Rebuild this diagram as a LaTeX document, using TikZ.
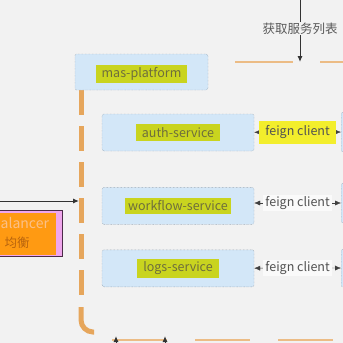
\documentclass[tikz,border=0pt]{standalone}
\usepackage{fontspec}
\setmainfont{Noto Sans CJK SC}
\usepackage{xcolor}
\usetikzlibrary{positioning, arrows.meta}

\definecolor{bggray}{HTML}{F2F2F2}
\definecolor{svcblue}{HTML}{D3E7F8}
\definecolor{svcline}{HTML}{7E8A96}
\definecolor{hlgreen}{HTML}{C9D41F}
\definecolor{hltext}{HTML}{6E6E3C}
\definecolor{hlyellow}{HTML}{F3EE2C}
\definecolor{frameorange}{HTML}{E6A65C}
\definecolor{lborange}{HTML}{FF9A12}
\definecolor{lbpink}{HTML}{EFA6EC}
\definecolor{lbline}{HTML}{4B2B48}
\definecolor{lbpeach}{HTML}{FBC088}
\definecolor{lbbrown}{HTML}{B8640E}

\tikzset{
  svc/.style={draw=svcline, densely dotted, fill=svcblue, rounded corners=2pt, minimum height=37pt},
  hl/.style={fill=hlgreen, text=hltext, font=\fontsize{12.5}{14}\selectfont, inner xsep=6pt, inner ysep=3pt},
  feign/.style={font=\fontsize{12.5}{14}\selectfont, text=black!68, inner xsep=2pt, inner ysep=1pt},
  frameline/.style={draw=frameorange, line width=5pt},
  thinframe/.style={draw=frameorange!75, line width=2.5pt}
}

\begin{document}
\begin{tikzpicture}[x=1pt, y=-1pt, >={Latex[length=6pt,width=5pt]}]
        \fill[bggray] (0,0) rectangle (343,343);
        \useasboundingbox (0,0) rectangle (343,343);
        \clip (0,0) rectangle (343,343);

        % Frame
        \draw[thinframe, dash pattern=on 58pt off 27pt] (235,62) -- (360,62);
        \draw[frameline, dash pattern=on 25pt off 11pt] (81,90) -- (81,296);
        \draw[frameline, rounded corners=12pt] (81,307) -- (81,332) -- (94,332);
        \draw[thinframe, dash pattern=on 55pt off 28pt] (112,340) -- (360,340);

        % Nodes
        \node (mas) [svc, minimum width=133pt, minimum height=36pt] at (141.5,72) {};
        \node (auth) [svc, minimum width=152pt] at (178,132.5) {};
        \node (workflow) [svc, minimum width=152pt, below=36pt of auth] {};
        \node (logs) [svc, minimum width=152pt, below=25pt of workflow] {};
        \node (mastxt) [hl] at ([yshift=-2pt]mas.center) {mas-platform};
        \node (authtxt) [hl] at (auth) {auth-service};
        \node (workflowtxt) [hl, inner xsep=3pt] at (workflow) {workflow-service};
        \node (logstxt) [hl] at (logs) {logs-service};

        \node (r1) [svc, anchor=west, minimum width=30pt, minimum height=40pt] at (341,132) {};
        \node (r2) [svc, anchor=west, minimum width=30pt, minimum height=40pt] at (341,203) {};
        \node (r3) [svc, anchor=west, minimum width=30pt, minimum height=38pt] at (341,268) {};

        \node (lb) [draw=lbline, line width=1.2pt, fill=lbpink, anchor=east, minimum width=110pt, minimum height=46pt] at (63,233.5) {};
        \node (lbhl) [fill=lborange, anchor=east, inner sep=0pt, minimum width=100pt, minimum height=42pt] at (56,234) {};
        \node (lbtxt1) [anchor=west, text=lbpeach, font=\fontsize{14}{16}\selectfont, inner sep=0pt] at (0.5,223) {alancer};
        \node (lbtxt2) [anchor=west, text=lbbrown, font=\fontsize{12.5}{15}\selectfont, inner sep=0pt] at (4.5,243) {均衡};

        \coordinate (topin) at (300,-5);
        \coordinate (listend) at (300,62);
        \coordinate (lbin) at (-5,201);
        \coordinate (gate) at (79,201);
        \coordinate (up1) at (116,352);
        \coordinate (up1t) at (116,336);
        \coordinate (up2) at (165,352);
        \coordinate (up2t) at (165,336);

        % Arrows
        \draw[->, line width=1pt, black!80] (topin) -- node[fill=bggray, font=\fontsize{12.5}{14}\selectfont, text=black!65, inner sep=1pt] (fetch) {获取服务列表} (listend);
        \draw[->, line width=1pt, black!80] (lbin) -- (gate);
        \draw[<->, black!75] (auth) -- node[feign, fill=hlyellow, inner xsep=6pt, inner ysep=5pt] (feign1) {feign client} (r1);
        \draw[<->, black!75] (workflow.east |- r2) -- node[feign, fill=white!60!bggray] (feign2) {feign client} (r2);
        \draw[<->, black!75] (logs) -- node[feign, fill=white!60!bggray] (feign3) {feign client} (r3);
        \draw[->, line width=1pt, black!80] (up1) -- (up1t);
        \draw[->, line width=1pt, black!80] (up2) -- (up2t);

    \end{tikzpicture}
\end{document}
